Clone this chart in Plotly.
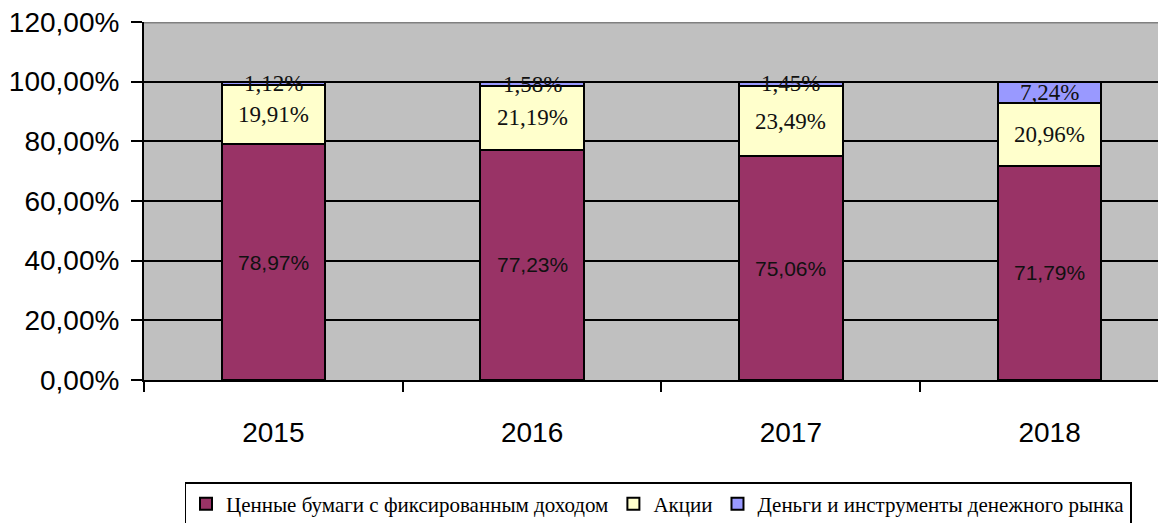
import plotly.graph_objects as go

years = ["2015", "2016", "2017", "2018"]
series_names = [
    "Ценные бумаги с фиксированным доходом",
    "Акции",
    "Деньги и инструменты денежного рынка",
]
fixed_income = [78.97, 77.23, 75.06, 71.79]
shares = [19.91, 21.19, 23.49, 20.96]
money_market = [1.12, 1.58, 1.45, 7.24]
series_values = [fixed_income, shares, money_market]
colors = ["#993366", "#FFFFCC", "#9999FF"]

y_tick_vals = [0, 20, 40, 60, 80, 100, 120]
y_tick_text = ["0,00%", "20,00%", "40,00%", "60,00%", "80,00%", "100,00%", "120,00%"]

SANS = "Liberation Sans, Arial, sans-serif"
SERIF = "Liberation Serif, Times New Roman, serif"

FIG_W, FIG_H = 1158, 515


def fmt(v):
    return f"{v:.2f}".replace(".", ",") + "%"


fig = go.Figure()
for name, vals, col in zip(series_names, series_values, colors):
    fig.add_trace(go.Bar(
        x=years, y=vals, name=name,
        marker=dict(color=col, line=dict(color="black", width=2)),
        width=0.4,
    ))

# data labels centered on each segment
annotations = []
base = [0.0] * len(years)
for si, vals in enumerate(series_values):
    for i, v in enumerate(vals):
        annotations.append(dict(
            x=i, y=base[i] + v / 2, xref="x", yref="y",
            text=fmt(v), showarrow=False,
            font=dict(family=SANS if si == 0 else SERIF,
                      size=21 if si == 0 else 23, color="#111"),
        ))
        base[i] += v

fig.update_layout(
    width=FIG_W, height=FIG_H,
    margin=dict(l=136, r=0, t=14, b=143),
    paper_bgcolor="white", plot_bgcolor="#C0C0C0",
    barmode="stack", bargap=0.6,
    showlegend=True,
    legend=dict(
        orientation="h", xref="container", yref="container",
        x=650 / FIG_W, xanchor="center", y=1 - 474 / FIG_H, yanchor="top",
        bordercolor="black", borderwidth=1.5, bgcolor="white",
        font=dict(family=SERIF, size=21, color="black"),
        traceorder="normal", itemwidth=30, tracegroupgap=0,
    ),
    annotations=annotations,
    shapes=[dict(type="line", xref="paper", yref="y", x0=0, x1=1, y0=120, y1=120,
                 line=dict(color="#808080", width=3))],
)
fig.update_yaxes(
    range=[0, 120], tickvals=y_tick_vals, ticktext=y_tick_text,
    showgrid=True, gridcolor="black", gridwidth=2,
    ticks="outside", ticklen=11, tickwidth=2, tickcolor="black",
    showline=True, linecolor="black", linewidth=2,
    tickfont=dict(family=SANS, size=28, color="black"),
    ticklabelstandoff=6, ticklabeloverflow="allow",
    zeroline=False, automargin=False,
)
fig.update_xaxes(
    type="category",
    range=[-0.5, 3.45], tickson="boundaries",
    ticks="outside", ticklen=10, tickwidth=2, tickcolor="black",
    showline=True, linecolor="black", linewidth=2, showgrid=False,
    tickfont=dict(family=SANS, size=28, color="black"),
    ticklabelstandoff=26, ticklabeloverflow="allow", automargin=False,
)

fig.write_html("out.html")
